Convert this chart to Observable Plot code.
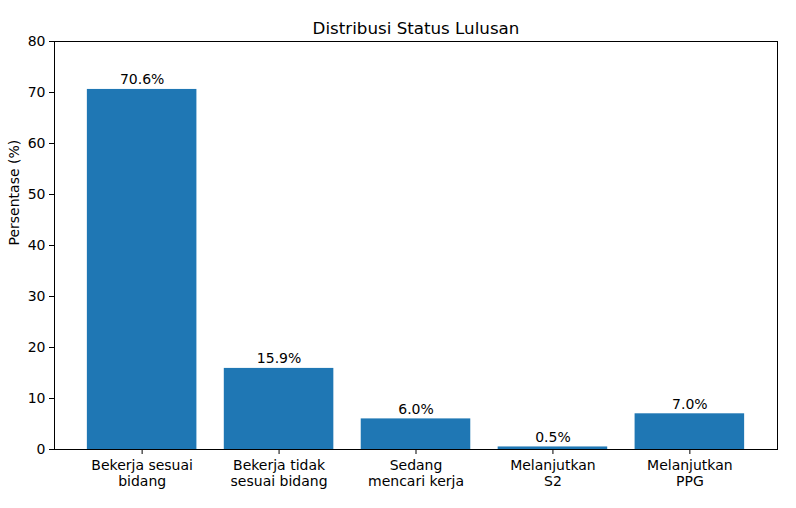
<!DOCTYPE html>
<html>
<head>
<meta charset="utf-8">
<script src="https://cdn.jsdelivr.net/npm/d3@7"></script>
<script src="https://cdn.jsdelivr.net/npm/@observablehq/plot@0.6"></script>
<style>
  html, body { margin: 0; padding: 0; background: #fff; }
  svg { display: block; }
</style>
</head>
<body>
<div id="chart"></div>
<script>
const title = "Distribusi Status Lulusan";
const yLabel = "Persentase (%)";
const categories = ["Bekerja sesuai\nbidang", "Bekerja tidak\nsesuai bidang", "Sedang\nmencari kerja", "Melanjutkan\nS2", "Melanjutkan\nPPG"];
const values = [70.6, 15.9, 6.0, 0.5, 7.0];
const yTicks = [0, 10, 20, 30, 40, 50, 60, 70, 80];

const data = categories.map((c, i) => ({category: c, value: values[i]}));

const chart = Plot.plot({
  width: 796,
  height: 508,
  marginLeft: 54,
  marginRight: 19,
  marginTop: 41,
  marginBottom: 59,
  style: {fontFamily: "DejaVu Sans", fontSize: "14px", color: "#000", background: "#fff"},
  x: {domain: categories, paddingInner: 0.2, paddingOuter: 0.24, round: false, label: null},
  y: {domain: [0, 80], label: null},
  marks: [
    Plot.barY(data, {x: "category", y: "value", fill: "#1f77b4"}),
    Plot.text(data, {x: "category", y: "value", text: d => d.value.toFixed(1) + "%", lineAnchor: "bottom", dy: -5, fontSize: 14, fill: "#000"}),
    Plot.axisY({ticks: yTicks, tickSize: 5, tickPadding: 4, fontSize: 14, stroke: "#000", label: null}),
    Plot.axisX({tickSize: 5, tickPadding: 4, fontSize: 14, lineHeight: 1.15, stroke: "#000", label: null}),
    Plot.frame({stroke: "#000", strokeWidth: 1}),
    Plot.text([title], {frameAnchor: "top", lineAnchor: "middle", dy: -13, fontSize: 16.7, fill: "#000"}),
    Plot.text([yLabel], {frameAnchor: "left", dx: -40, rotate: -90, fontSize: 14, fill: "#000"})
  ]
});
document.getElementById("chart").appendChild(chart);
</script>
</body>
</html>
